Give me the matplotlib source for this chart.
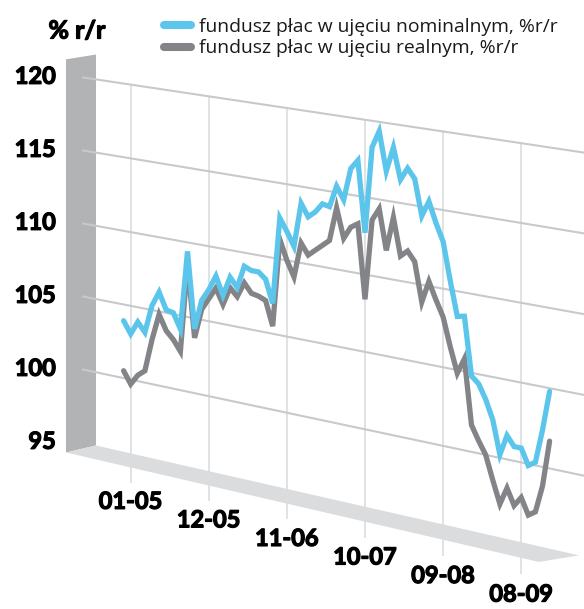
import numpy as np
import matplotlib
matplotlib.use("Agg")
import matplotlib.pyplot as plt
import matplotlib.transforms as mtransforms
import matplotlib.patheffects as pe
from matplotlib.patches import Polygon

# ---------------- data ----------------
months = np.arange(-1, 60)          # month index, 0 = 01-2005
tick_months = [0, 11, 22, 33, 44, 55]
tick_labels = ['01-05', '12-05', '11-06', '10-07', '09-08', '08-09']
y_ticks = [95, 100, 105, 110, 115, 120]

nominal = [103.9, 103.1, 104.0, 103.4, 105.3, 106.3, 105.2, 105.1, 104.1, 109.4,
           104.3, 106.3, 107.1, 108.1, 106.9, 108.2, 107.6, 109.1, 108.9, 108.9,
           108.5, 107.0, 112.7, 111.9, 111.0, 113.9, 113.1, 113.5, 114.1, 114.0,
           115.4, 114.6, 116.7, 117.3, 112.7, 118.3, 119.4, 116.9, 118.5, 116.5,
           117.3, 116.7, 114.4, 115.4, 114.1, 113.0, 110.6, 108.4, 108.5, 104.8,
           104.4, 103.5, 102.3, 100.2, 101.5, 100.9, 100.9, 99.9, 100.2, 102.3,
           104.8]
real = [100.5, 99.7, 100.4, 100.8, 103.0, 104.8, 103.8, 103.3, 102.6, 108.6,
        103.7, 105.7, 106.5, 107.3, 106.3, 107.5, 107.0, 108.0, 107.4, 107.3,
        107.1, 105.5, 111.3, 110.0, 109.0, 111.3, 110.6, 111.0, 111.4, 111.8,
        114.0, 112.1, 112.9, 113.2, 108.4, 113.6, 114.4, 111.8, 114.0, 111.6,
        112.0, 111.4, 108.9, 110.3, 109.2, 108.2, 106.4, 104.8, 105.8, 101.7,
        100.8, 100.0, 98.5, 97.1, 98.2, 97.2, 97.8, 96.8, 97.1, 98.8,
        101.7]

legend_labels = ['fundusz płac w ujęciu nominalnym, %r/r',
                 'fundusz płac w ujęciu realnym, %r/r']
unit_label = '% r/r'

# ---------------- style ----------------
BLUE = '#5bc5ec'
GRAY = '#838487'
WALL = '#b2b3b5'
FLOOR = '#dbdcdd'
HGRID = '#c8c9cb'
VGRID = '#d9dadb'

W, H, DPI = 584, 609, 100

# perspective projection (month, value) -> pixel
X0, DX = 130.7, 7.1
XW = 82.0
Y120, DY = 77.3, 14.6
S120, DS = 0.150, 0.0031


class Perspective(mtransforms.Transform):
    input_dims = 2
    output_dims = 2
    is_separable = False
    has_inverse = True

    def transform_non_affine(self, values):
        values = np.asarray(values, dtype=float).reshape(-1, 2)
        t, v = values[:, 0], values[:, 1]
        x = X0 + DX * t
        d = 120.0 - v
        y = Y120 + d * DY + (S120 + d * DS) * (x - XW)
        return np.column_stack([x, y])

    def inverted(self):
        return PerspectiveInv()


class PerspectiveInv(mtransforms.Transform):
    input_dims = 2
    output_dims = 2
    is_separable = False
    has_inverse = True

    def transform_non_affine(self, values):
        values = np.asarray(values, dtype=float).reshape(-1, 2)
        x, y = values[:, 0], values[:, 1]
        t = (x - X0) / DX
        d = (y - Y120 - S120 * (x - XW)) / (DY + DS * (x - XW))
        return np.column_stack([t, 120.0 - d])

    def inverted(self):
        return Perspective()


def t_of_px(px):
    return (px - X0) / DX


fig = plt.figure(figsize=(W / DPI, H / DPI), dpi=DPI)
ax = fig.add_axes([0, 0, 1, 1])
ax.set_xlim(0, W)
ax.set_ylim(H, 0)
ax.axis('off')
P = Perspective() + ax.transData

HEAVY = [pe.withStroke(linewidth=0.9, foreground='black')]
TICK_FONT = dict(family='Lato', weight='bold', size=17, color='black',
                 path_effects=HEAVY)

# wall and floor (depth offset in month / value units)
t_back, t_front = t_of_px(96), t_of_px(66)
wall = Polygon([(t_front, 94.05), (t_back, 95), (t_back, 121.7), (t_front, 121.07)],
               closed=True, facecolor=WALL, edgecolor='none', transform=P, zorder=1)
ax.add_patch(wall)
floor = Polygon([(t_back, 95), (t_of_px(579), 95), (t_of_px(539), 94.02), (t_front, 94.05)],
                closed=True, facecolor=FLOOR, edgecolor='none', transform=P, zorder=1)
ax.add_patch(floor)

# vertical grid lines
for m in tick_months:
    ax.plot([m, m], [120, 93.0], color=VGRID, lw=1.1, transform=P, zorder=0.5,
            solid_capstyle='butt')

# horizontal grid lines
tl, tr = t_of_px(82), t_of_px(W + 5)
for v in y_ticks[1:]:
    ax.plot([tl, tr], [v, v], color=HGRID, lw=1.5, transform=P, zorder=2,
            solid_capstyle='butt')

# data lines
ax.plot(months, real, color=GRAY, lw=3.8, transform=P, zorder=3,
        solid_joinstyle='miter', solid_capstyle='round')
ax.plot(months, nominal, color=BLUE, lw=3.8, transform=P, zorder=4,
        solid_joinstyle='miter', solid_capstyle='round')

# y tick labels
for v in y_ticks:
    ax.annotate(str(v), xy=(t_of_px(82), v), xycoords=P, xytext=(-26, 1),
                textcoords='offset pixels', ha='right', va='center', **TICK_FONT)

# x tick labels
for m, lab in zip(tick_months, tick_labels):
    ax.annotate(lab, xy=(m, 91.75), xycoords=P, ha='center', va='center', **TICK_FONT)

# unit label
ax.text(77, 31, unit_label, ha='center', va='center', family='Lato',
        weight='bold', size=18, color='black', path_effects=HEAVY)

# legend
for i, (lab, col) in enumerate(zip(legend_labels, [BLUE, GRAY])):
    yy = 25 + 21.5 * i
    ax.plot([164, 191], [yy, yy], color=col, lw=5.8, solid_capstyle='round')
    ax.text(199, yy + 1.5, lab, ha='left', va='center', family='Open Sans',
            size=13.9, color='#1a1a1a')

fig.savefig('out.png', dpi=DPI)
